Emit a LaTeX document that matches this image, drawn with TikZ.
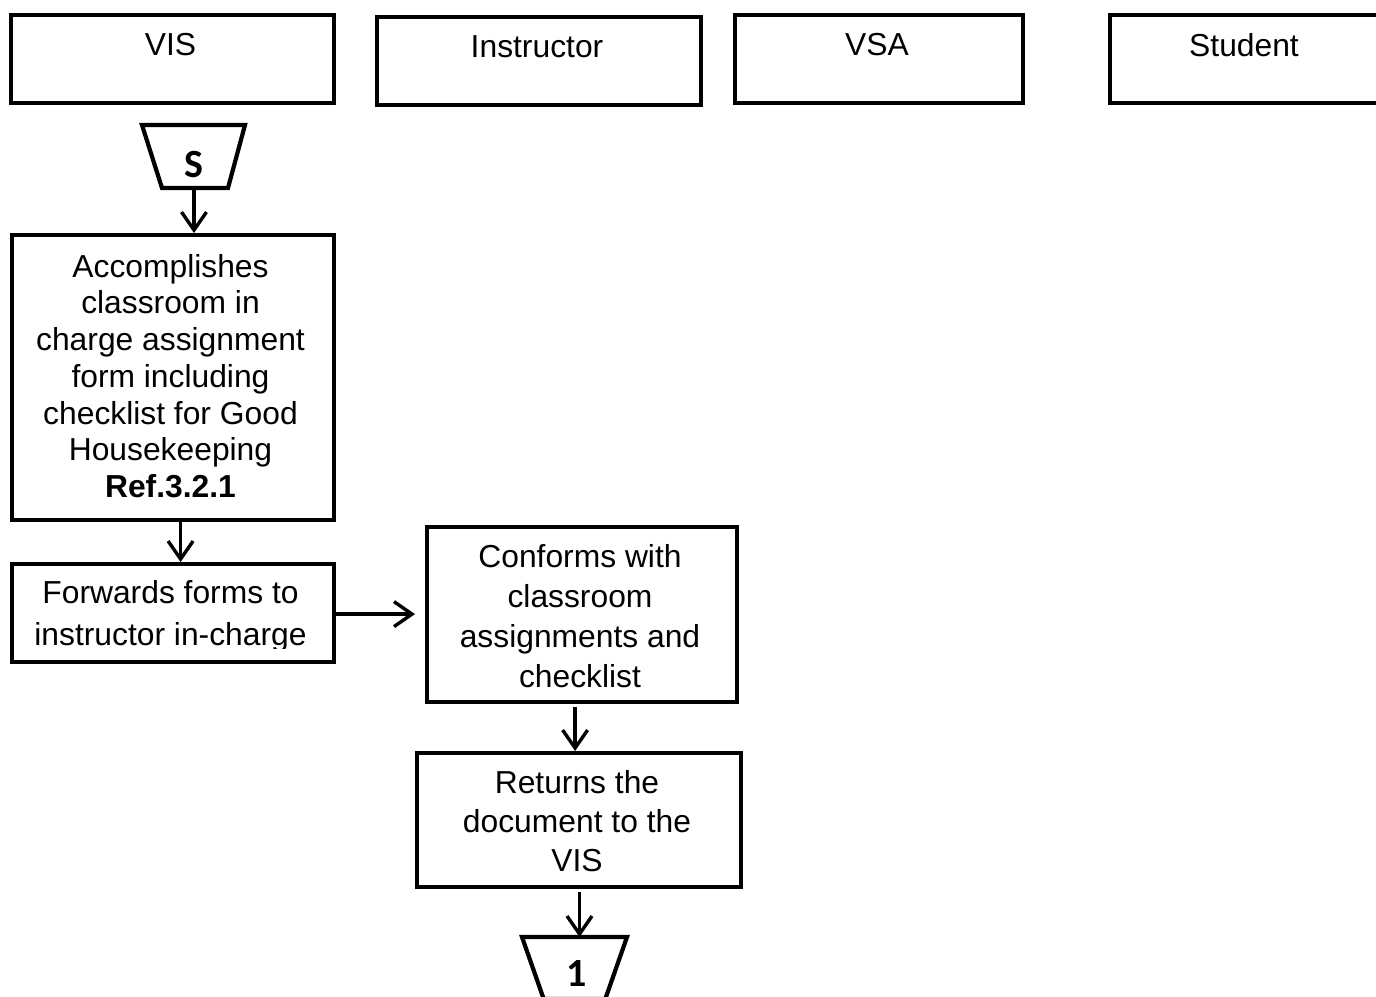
\documentclass[tikz,border=0pt]{standalone}
\usepackage{fontspec}
\setmainfont{Liberation Sans}
\newfontfamily\calfont{Carlito}
\usetikzlibrary{arrows.meta}
\begin{document}
\begin{tikzpicture}[x=1pt,y=-1pt,
  box/.style={draw, line width=4.2pt, inner sep=0pt, anchor=north west},
  txt/.style={align=center, inner sep=0pt, font=\fontsize{31.8}{36.7}\selectfont},
  flow/.style={line width=3.4pt, -{Straight Barb[length=18pt,width=25pt]}},
  term/.style={line width=4.2pt, line join=miter},
  termtxt/.style={inner sep=0pt, font=\calfont\bfseries\fontsize{40}{40}\selectfont}
]
\clip (0,0) rectangle (1376,996);

% swimlane headers
\node[box, minimum width=323, minimum height=88] (vis) at (9,13) {};
\node[txt] (vist) at (170.5,45) {VIS};
\node[box, minimum width=324, minimum height=88] (ins) at (375,15) {};
\node[txt] (inst) at (537,47) {Instructor};
\node[box, minimum width=288, minimum height=88] (vsa) at (733,13) {};
\node[txt] (vsat) at (877,45) {VSA};
\node[box, minimum width=300, minimum height=88] (stu) at (1108,13) {};
\node[txt] (stut) at (1244,45) {Student};

% start connector
\draw[term] (142,125) -- (245,125) -- (228,188) -- (162,188) -- cycle;
\node[termtxt] (s) at (194,165) {S};
\coordinate (sout) at (194,188);

% process steps
\node[box, minimum width=322, minimum height=285] (acc) at (10,233) {};
\node[txt] (acct) at (170.5,376) {Accomplishes\\classroom in\\charge assignment\\form including\\checklist for Good\\Housekeeping\\\textbf{Ref.3.2.1}};

\node[box, minimum width=322, minimum height=98] (fwd) at (10,562) {};
\begin{scope}
  \clip (10,562) rectangle (332,648);
  \node[txt, font=\fontsize{31.8}{42}\selectfont] (fwdt) at (170.5,616) {Forwards forms to\\instructor in-charge};
\end{scope}

\node[box, minimum width=310, minimum height=175] (conf) at (425,525) {};
\node[txt, font=\fontsize{31.8}{40}\selectfont] (conft) at (580,616) {Conforms with\\classroom\\assignments and\\checklist};

\node[box, minimum width=324, minimum height=134] (ret) at (415,751) {};
\node[txt, font=\fontsize{31.8}{39}\selectfont] (rett) at (577,821) {Returns the\\document to the\\VIS};

% off-page connector
\draw[term] (522,937) -- (627,937) -- (605.3,999) -- (543.7,999) -- cycle;
\node[termtxt] (one) at (577,973) {1};
\coordinate (onein) at (579.5,937);

% connectors
\draw[flow] (sout) -- (sout |- acc.north);
\draw[flow] ([xshift=7.5pt]acc.south) -- ([xshift=7.5pt]fwd.north);
\draw[flow, shorten >=10pt] ([yshift=-1pt]fwd.east) -- ([yshift=-1pt]fwd.east -| conf.west);
\draw[flow, shorten <=3pt] ([xshift=-7pt]conf.south) -- ([xshift=-7pt]conf.south |- ret.north);
\draw[flow, shorten <=3pt] (onein |- ret.south) -- (onein);
\end{tikzpicture}
\end{document}
